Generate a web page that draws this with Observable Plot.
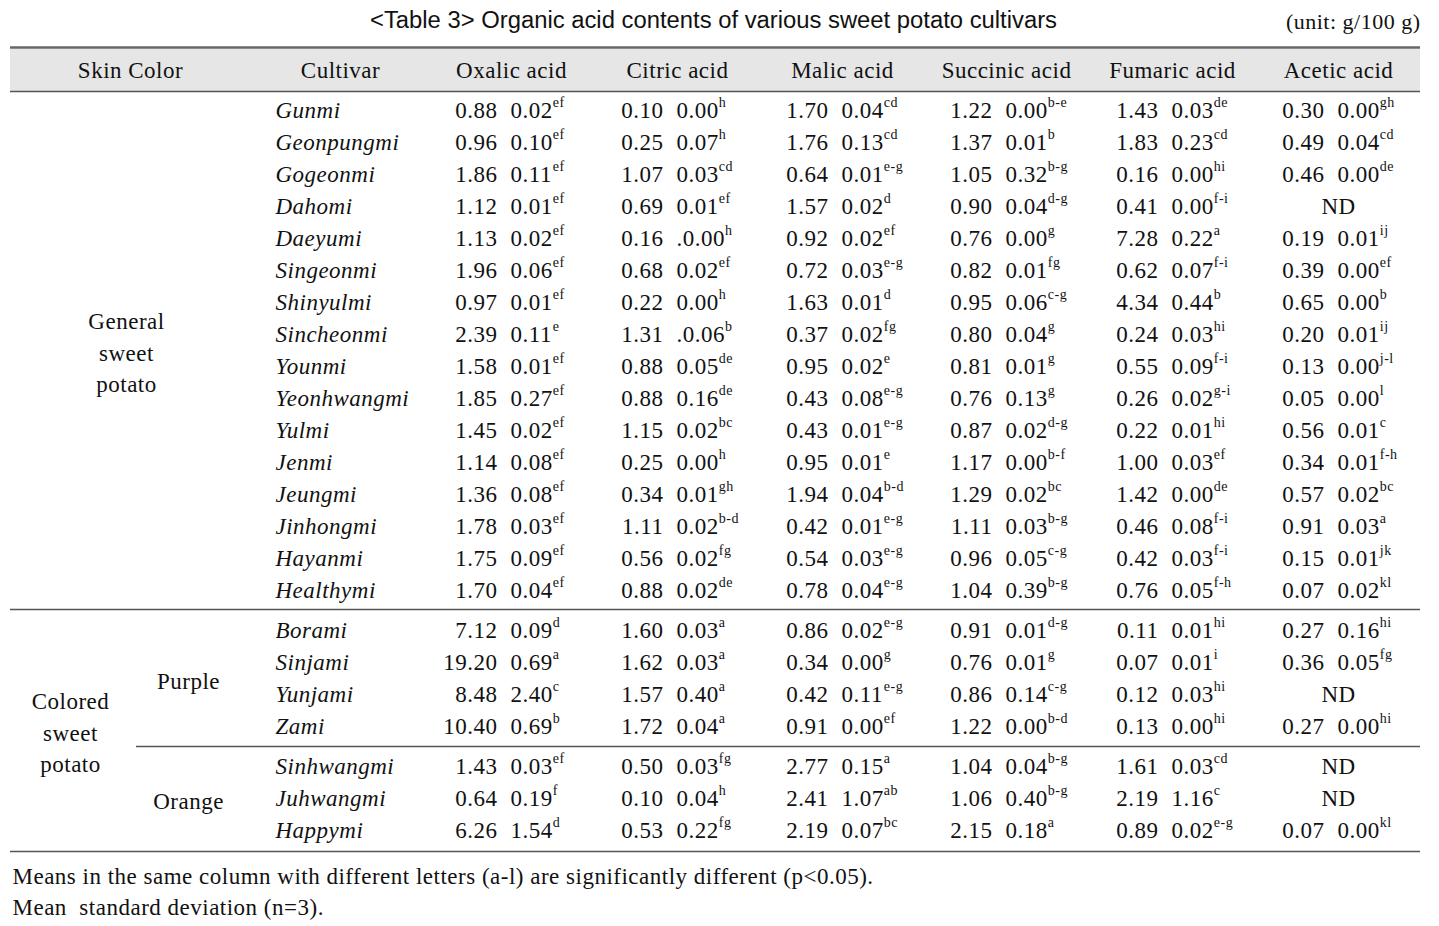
<!DOCTYPE html>
<html>
<head>
<meta charset="utf-8">
<script src="https://cdn.jsdelivr.net/npm/d3@7"></script>
<script src="https://cdn.jsdelivr.net/npm/@observablehq/plot@0.6"></script>
<style>
  html, body { margin: 0; padding: 0; background: #fff; }
</style>
</head>
<body>
<div id="chart"></div>
<script>
// ---------------- DATA ----------------
const titleText = "<Table 3> Organic acid contents of various sweet potato cultivars";
const unitText = "(unit: g/100 g)";
const headers = ["Skin Color", "Cultivar", "Oxalic acid", "Citric acid", "Malic acid", "Succinic acid", "Fumaric acid", "Acetic acid"];
const cultivars = ["Gunmi", "Geonpungmi", "Gogeonmi", "Dahomi", "Daeyumi", "Singeonmi", "Shinyulmi", "Sincheonmi",
  "Younmi", "Yeonhwangmi", "Yulmi", "Jenmi", "Jeungmi", "Jinhongmi", "Hayanmi", "Healthymi",
  "Borami", "Sinjami", "Yunjami", "Zami", "Sinhwangmi", "Juhwangmi", "Happymi"];
const groupLabels = [
  {text: "General\nsweet\npotato", first: 0, last: 15, level: 0},
  {text: "Colored\nsweet\npotato", first: 16, last: 22, level: 1},
  {text: "Purple", first: 16, last: 19, level: 2},
  {text: "Orange", first: 20, last: 22, level: 2}
];

const oxalicMean = ["0.88","0.96","1.86","1.12","1.13","1.96","0.97","2.39","1.58","1.85","1.45","1.14","1.36","1.78","1.75","1.70","7.12","19.20","8.48","10.40","1.43","0.64","6.26"];
const oxalicSD   = ["0.02","0.10","0.11","0.01","0.02","0.06","0.01","0.11","0.01","0.27","0.02","0.08","0.08","0.03","0.09","0.04","0.09","0.69","2.40","0.69","0.03","0.19","1.54"];
const oxalicSig  = ["ef","ef","ef","ef","ef","ef","ef","e","ef","ef","ef","ef","ef","ef","ef","ef","d","a","c","b","ef","f","d"];

const citricMean = ["0.10","0.25","1.07","0.69","0.16","0.68","0.22","1.31","0.88","0.88","1.15","0.25","0.34","1.11","0.56","0.88","1.60","1.62","1.57","1.72","0.50","0.10","0.53"];
const citricSD   = ["0.00","0.07","0.03","0.01",".0.00","0.02","0.00",".0.06","0.05","0.16","0.02","0.00","0.01","0.02","0.02","0.02","0.03","0.03","0.40","0.04","0.03","0.04","0.22"];
const citricSig  = ["h","h","cd","ef","h","ef","h","b","de","de","bc","h","gh","b-d","fg","de","a","a","a","a","fg","h","fg"];

const malicMean = ["1.70","1.76","0.64","1.57","0.92","0.72","1.63","0.37","0.95","0.43","0.43","0.95","1.94","0.42","0.54","0.78","0.86","0.34","0.42","0.91","2.77","2.41","2.19"];
const malicSD   = ["0.04","0.13","0.01","0.02","0.02","0.03","0.01","0.02","0.02","0.08","0.01","0.01","0.04","0.01","0.03","0.04","0.02","0.00","0.11","0.00","0.15","1.07","0.07"];
const malicSig  = ["cd","cd","e-g","d","ef","e-g","d","fg","e","e-g","e-g","e","b-d","e-g","e-g","e-g","e-g","g","e-g","ef","a","ab","bc"];

const succinicMean = ["1.22","1.37","1.05","0.90","0.76","0.82","0.95","0.80","0.81","0.76","0.87","1.17","1.29","1.11","0.96","1.04","0.91","0.76","0.86","1.22","1.04","1.06","2.15"];
const succinicSD   = ["0.00","0.01","0.32","0.04","0.00","0.01","0.06","0.04","0.01","0.13","0.02","0.00","0.02","0.03","0.05","0.39","0.01","0.01","0.14","0.00","0.04","0.40","0.18"];
const succinicSig  = ["b-e","b","b-g","d-g","g","fg","c-g","g","g","g","d-g","b-f","bc","b-g","c-g","b-g","d-g","g","c-g","b-d","b-g","b-g","a"];

const fumaricMean = ["1.43","1.83","0.16","0.41","7.28","0.62","4.34","0.24","0.55","0.26","0.22","1.00","1.42","0.46","0.42","0.76","0.11","0.07","0.12","0.13","1.61","2.19","0.89"];
const fumaricSD   = ["0.03","0.23","0.00","0.00","0.22","0.07","0.44","0.03","0.09","0.02","0.01","0.03","0.00","0.08","0.03","0.05","0.01","0.01","0.03","0.00","0.03","1.16","0.02"];
const fumaricSig  = ["de","cd","hi","f-i","a","f-i","b","hi","f-i","g-i","hi","ef","de","f-i","f-i","f-h","hi","i","hi","hi","cd","c","e-g"];

const aceticMean = ["0.30","0.49","0.46","ND","0.19","0.39","0.65","0.20","0.13","0.05","0.56","0.34","0.57","0.91","0.15","0.07","0.27","0.36","ND","0.27","ND","ND","0.07"];
const aceticSD   = ["0.00","0.04","0.00","","0.01","0.00","0.00","0.01","0.00","0.00","0.01","0.01","0.02","0.03","0.01","0.02","0.16","0.05","","0.00","","","0.00"];
const aceticSig  = ["gh","cd","de","","ij","ef","b","ij","j-l","l","c","f-h","bc","a","jk","kl","hi","fg","","hi","","","kl"];

const footnotes = [
  "Means in the same column with different letters (a-l) are significantly different (p<0.05).",
  "Mean  standard deviation (n=3)."
];

// ---------------- LAYOUT ----------------
const W = 1439, H = 926;
const L = {
  left: 10, right: 1420,
  topRule: 47, headTop: 49, headBottom: 91, headY: 70,
  rowY0: 110, rowStep: 32, gap1: 8, gap2: 8,
  groupRule: 609, subRule: 746, subRuleLeft: 136, bottomRule: 851,
  headerX: [130, 340, 511, 677, 842, 1006, 1172, 1338],
  cultivarX: 275, levelX: [126, 70, 188],
  fs: 23, supFs: 14, spacing: 0.5
};
const rowY = i => L.rowY0 + L.rowStep * i + (i >= 16 ? L.gap1 : 0) + (i >= 20 ? L.gap2 : 0);

const acidCols = [
  [oxalicMean, oxalicSD, oxalicSig],
  [citricMean, citricSD, citricSig],
  [malicMean, malicSD, malicSig],
  [succinicMean, succinicSD, succinicSig],
  [fumaricMean, fumaricSD, fumaricSig],
  [aceticMean, aceticSD, aceticSig]
];
const cells = [];
acidCols.forEach(([m, s, g], j) => {
  cultivars.forEach((c, i) => {
    cells.push({j, i, mean: m[i], sd: s[i], sig: g[i], cx: L.headerX[j + 2], y: rowY(i)});
  });
});
const values = cells.filter(d => d.mean !== "ND");
const nds = cells.filter(d => d.mean === "ND");
const textW = (s, fs) => [...s].reduce((a, ch) => a + (ch === "." ? 0.25 : 0.5) * fs + L.spacing, 0);

const rows = cultivars.map((c, i) => ({c, y: rowY(i)}));
const headerData = headers.map((h, k) => ({h, x: L.headerX[k]}));
const groups = groupLabels.map(g => ({...g, x: L.levelX[g.level], y: (rowY(g.first) + rowY(g.last)) / 2}));

const serif = "'Liberation Serif', 'Times New Roman', serif";

const chart = Plot.plot({
  width: W, height: H, margin: 0,
  x: {domain: [0, W], range: [0, W], axis: null},
  y: {domain: [0, H], range: [0, H], axis: null},
  style: {fontFamily: serif, background: "#fff", color: "#111", letterSpacing: L.spacing + "px"},
  marks: [
    // header band
    Plot.rect([0], {x1: L.left, x2: L.right, y1: L.headTop, y2: L.headBottom, fill: "#e6e6e6"}),
    Plot.ruleY([L.topRule], {x1: L.left, x2: L.right, stroke: "#666", strokeWidth: 2.5}),
    Plot.ruleY([L.headBottom, L.groupRule, L.bottomRule], {x1: L.left, x2: L.right, stroke: "#555", strokeWidth: 1.5}),
    Plot.ruleY([L.subRule], {x1: L.subRuleLeft, x2: L.right, stroke: "#555", strokeWidth: 1.5}),
    // title
    Plot.text([titleText], {x: 713, y: 20, text: d => d, fontFamily: "'Liberation Sans', Arial, sans-serif", fontSize: 23, fill: "#111"}),
    Plot.text([unitText], {x: L.right, y: 21, text: d => d, textAnchor: "end", fontSize: 22, fill: "#111"}),
    // headers
    Plot.text(headerData, {x: "x", y: L.headY, text: "h", fontSize: L.fs, fill: "#111"}),
    // group labels
    Plot.text(groups, {x: "x", y: "y", text: "text", fontSize: L.fs, lineHeight: 1.36, fill: "#111"}),
    // cultivars
    Plot.text(rows, {x: L.cultivarX, y: "y", text: "c", textAnchor: "start", fontStyle: "italic", fontSize: L.fs, fill: "#111"}),
    // values
    Plot.text(values, {x: d => d.cx - 14, y: "y", text: "mean", textAnchor: "end", fontSize: L.fs, fill: "#111"}),
    Plot.text(values, {x: d => d.cx - 1, y: "y", text: "sd", textAnchor: "start", fontSize: L.fs, fill: "#111"}),
    Plot.text(values, {x: d => d.cx + textW(d.sd, L.fs) - 1, y: d => d.y - 8, text: "sig", textAnchor: "start", fontSize: L.supFs, fill: "#111"}),
    Plot.text(nds, {x: "cx", y: "y", text: "mean", fontSize: L.fs, fill: "#111"}),
    // footnotes
    Plot.text(footnotes, {x: 12, y: (d, i) => 876 + 31 * i, text: d => d, textAnchor: "start", fontSize: L.fs, fill: "#111"})
  ]
});
// condense the title to the reference width
d3.select(chart).selectAll("text")
  .filter(function () { return this.textContent === titleText; })
  .attr("textLength", 687).attr("lengthAdjust", "spacingAndGlyphs").style("letter-spacing", "0px");
document.getElementById("chart").append(chart);
</script>
</body>
</html>
